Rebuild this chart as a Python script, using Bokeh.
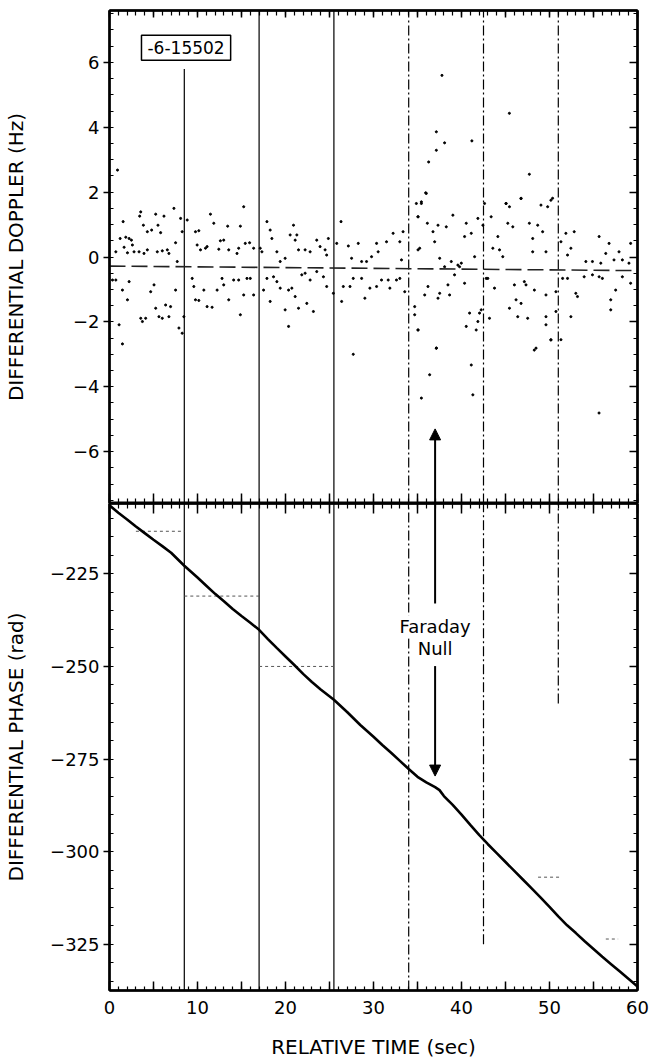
from bokeh.plotting import figure
from bokeh.layouts import column
from bokeh.models import (Range1d, LinearAxis, FixedTicker, Label, Arrow, NormalHead,
                          CustomJSTickFormatter)
from bokeh.embed import file_html
from bokeh.resources import INLINE

FONT = "DejaVu Sans"

# ---------------- data ----------------
time_range = (0, 60)
doppler_range = (-7.6, 7.6)
phase_range = (-337.5, -206.0)

time_major = [0, 5, 10, 15, 20, 25, 30, 35, 40, 45, 50, 55, 60]
time_minor = list(range(0, 61))
doppler_ticks = [-6, -4, -2, 0, 2, 4, 6]
doppler_minor = [x * 0.5 for x in range(-15, 16)]
phase_ticks = [-325, -300, -275, -250, -225]
phase_minor = list(range(-335, -205, 5))

# scatter of differential doppler (sec, Hz)
doppler_early = [
    (3.55, 1.39), (3.43, 1.26), (5.25, 1.32), (6.19, 1.26), (7.32, 1.50), (1.55, 1.09),
    (3.85, 0.98), (4.30, 0.78), (4.79, 0.83), (5.51, 0.98), (5.81, 0.75), (1.21, 0.57),
    (1.85, 0.61), (2.23, 0.57), (2.49, 0.52), (2.60, 0.37), (1.66, 0.30), (0.72, 0.16),
    (2.04, 0.13), (2.79, 0.16), (3.36, 0.16), (3.92, 0.11), (4.30, 0.22), (5.43, 0.16),
    (6.00, 0.19), (6.57, 0.22), (6.75, 0.11), (7.51, 0.44), (7.70, -0.14), (8.08, 1.19),
    (8.26, 0.78), (8.83, 1.14), (9.77, 0.78), (10.15, 0.81), (11.85, 1.04), (11.47, 1.32),
    (13.43, 0.95), (14.87, 0.95), (15.25, 1.55), (9.96, 0.37), (10.34, 0.22), (10.91, 0.27),
    (11.09, 0.32), (12.42, 0.24), (12.60, 0.50), (12.98, 0.52), (13.55, 0.22), (14.49, 0.11),
    (14.68, 0.27), (15.43, 0.42), (15.92, 0.44), (16.38, 0.27), (17.13, 0.27), (17.32, 0.16),
    (17.89, 1.09), (18.26, 0.83), (18.45, 0.57), (19.02, 0.16), (19.40, -0.14), (19.96, -0.04),
    (0.34, -0.71), (0.72, -0.71), (1.47, -1.02), (2.23, -0.76), (2.04, -1.32), (3.55, -1.89),
    (3.74, -1.99), (4.11, -1.89), (4.68, -1.07), (5.06, -0.86), (5.25, -1.58), (5.62, -1.84),
    (6.00, -1.89), (6.75, -1.84), (6.38, -1.48), (6.94, -1.53), (7.51, -1.02), (7.89, -2.19),
    (8.26, -2.35), (8.45, -1.84), (9.40, -0.66), (9.58, -0.91), (9.77, -1.32), (10.15, -1.34),
    (11.09, -1.53), (11.66, -1.55), (10.72, -1.02), (12.23, -1.02), (12.79, -0.66), (12.98, -0.86),
    (13.55, -1.32), (14.11, -0.71), (14.68, -0.71), (14.87, -1.78), (15.25, -1.17), (15.62, -0.66),
    (16.00, -0.66), (16.38, -1.17), (17.51, -1.02), (17.89, -0.66), (18.26, -1.37), (18.64, -0.61),
    (19.02, -0.76), (19.40, -0.96), (19.96, -1.63), (1.09, -2.09), (1.47, -2.68), (0.91, 2.68),
]
doppler_middle = [
    (20.91, 0.98), (21.29, 0.68), (21.10, 0.52), (20.53, 0.68), (21.48, 0.22), (22.23, 0.22),
    (22.80, 0.16), (23.55, 0.52), (23.93, 0.32), (24.50, 0.22), (24.68, 0.06), (24.87, 0.57),
    (25.82, 0.42), (26.31, 1.09), (27.14, 0.34), (28.27, 0.42), (27.51, -0.04), (28.65, -0.14),
    (29.21, -0.14), (29.78, 0.01), (30.35, 0.42), (30.53, 0.16), (31.48, 0.47), (32.23, 0.73),
    (32.99, 0.47), (33.18, -0.09), (33.36, 0.78), (35.06, 0.22), (35.25, 0.27), (35.06, 1.24),
    (34.87, 1.65), (36.00, 1.96), (35.44, 1.65), (36.12, 1.04), (37.33, 0.98), (38.27, 0.93),
    (39.02, 1.29), (36.76, 0.78), (36.95, 0.47), (37.52, -0.04), (38.84, -0.14), (39.59, -0.25),
    (20.35, -1.02), (21.10, -1.22), (20.72, -0.96), (21.48, -1.58), (22.42, -1.43), (23.17, -1.68),
    (21.85, -0.55), (22.23, -0.50), (22.80, -0.71), (23.55, -0.45), (24.31, -0.61), (24.68, -0.91),
    (25.44, -1.12), (26.38, -1.37), (26.57, -0.91), (27.33, -0.91), (27.70, -0.66), (28.65, -0.66),
    (29.02, -1.27), (29.59, -0.96), (30.35, -0.91), (30.91, -0.71), (31.67, -0.71), (31.86, -0.96),
    (32.61, -0.71), (32.99, -0.66), (33.55, -1.07), (34.68, -1.53), (34.68, -1.78), (35.06, -2.25),
    (35.82, -1.17), (36.19, -0.91), (37.14, -2.81), (37.33, -1.27), (37.52, -1.12), (38.46, -0.86),
    (38.65, -1.17), (39.21, -0.55), (38.08, -0.30), (39.78, -0.30), (20.35, -2.14),
]
doppler_late = [
    (46.77, 1.81), (50.35, 1.81), (45.07, 1.65), (45.45, 1.55), (49.03, 1.60), (49.79, 1.55),
    (42.62, 1.65), (41.86, 1.19), (43.37, 1.24), (40.54, 1.04), (42.43, 0.98), (45.26, 1.04),
    (45.83, 0.93), (47.71, 1.04), (48.66, 0.98), (49.22, 0.78), (40.35, 0.63), (41.11, 0.73),
    (44.13, 0.63), (48.09, 0.57), (51.86, 0.73), (52.81, 0.78), (55.64, 0.63), (56.77, 0.42),
    (59.22, 0.42), (51.30, 0.47), (52.43, 0.27), (49.60, 0.16), (48.09, 0.16), (43.56, 0.27),
    (44.32, 0.22), (44.69, 0.01), (41.49, 0.01), (39.98, -0.19), (52.05, 0.06), (54.13, -0.14),
    (54.88, -0.14), (55.83, -0.19), (56.39, 0.11), (57.33, -0.09), (57.90, 0.16), (58.28, -0.09),
    (59.03, -0.19), (40.35, -0.81), (42.99, -0.66), (43.75, -0.96), (46.01, -0.86), (47.14, -0.76),
    (47.33, -0.86), (48.28, -1.02), (46.20, -1.32), (46.77, -1.43), (45.45, -1.58), (46.39, -1.84),
    (47.52, -1.89), (49.60, -1.17), (50.73, -1.07), (52.05, -0.66), (52.99, -1.12), (53.18, -1.22),
    (53.94, -0.61), (54.88, -0.55), (55.64, -0.61), (56.01, -0.66), (56.96, -1.32), (57.52, -1.02),
    (58.28, -0.61), (59.22, -0.81), (51.49, -0.66), (52.43, -1.84), (50.73, -1.68), (49.60, -1.84),
    (42.24, -1.63), (42.05, -1.73), (40.92, -1.73), (41.86, -1.99), (43.18, -1.89), (40.54, -2.14),
    (41.67, -2.25), (50.16, -2.55), (51.30, -2.55), (48.47, -2.81), (49.60, -2.09), (56.96, -1.63),
    (42.81, -0.66),
]
doppler_outliers = [
    (37.78, 5.60), (45.44, 4.43), (37.14, 3.86), (38.08, 3.52), (41.18, 3.58), (36.27, 2.93),
    (37.14, 3.29), (35.93, 1.98), (35.44, 1.70), (47.71, 2.55), (46.76, 1.80), (45.06, 1.65),
    (50.16, 1.75), (27.70, -3.00), (37.14, -2.81), (36.38, -3.63), (35.44, -4.35), (41.11, -3.33),
    (41.29, -4.25), (48.27, -2.87), (50.16, -2.56), (55.63, -4.81), (35.06, -2.25), (35.06, 1.24),
]

# mean doppler level (dashed line)
mean_t = [0, 60]
mean_d = [-0.28, -0.42]

# differential phase (sec, rad)
phase_t = [0, 1, 2, 3, 4, 5, 6, 7, 8.5, 10, 11, 12, 13, 14, 15, 16, 17, 18, 19, 20,
           21, 22, 23, 24, 25.5, 27, 28.5, 30, 31, 32, 33, 34, 35, 36, 37, 37.5, 38,
           39, 40, 41, 42, 43, 44, 45, 46, 47, 48, 49, 50, 51, 52, 53, 54, 55, 56,
           57, 58, 59, 60]
phase_v = [-206.5, -208.5, -210.3, -212.2, -214.0, -215.8, -217.5, -219.3, -222.8,
           -226.0, -228.2, -230.4, -232.4, -234.5, -236.4, -238.2, -240.1, -242.6,
           -245.0, -247.3, -249.6, -252.0, -254.2, -256.2, -259.0, -262.3, -265.8,
           -269.0, -271.2, -273.3, -275.5, -277.7, -279.8, -281.3, -282.6, -283.4,
           -285.0, -287.4, -290.0, -292.8, -295.5, -298.0, -300.4, -302.8, -305.2,
           -307.6, -310.0, -312.4, -314.9, -317.5, -319.9, -322.0, -324.2, -326.3,
           -328.4, -330.4, -332.4, -334.4, -336.4]

# reference time marks (vertical lines)
mark_t = [8.5, 17.0, 25.5, 34.0, 42.5, 51.0]
mark_dash = ["solid", "solid", "solid", "10 3 2 3", "10 3 2 3", "10 3 2 3"]
mark_top_hi = [5.8, 7.6, 7.6, 7.6, 7.6, 7.6]
mark_bot_lo = [-337.5, -337.5, -337.5, -337.5, -325.0, -260.0]

# faint staircase marks in phase panel
step_t0 = [3.0, 8.5, 17.0, 48.7, 56.4]
step_t1 = [8.5, 17.0, 25.5, 51.2, 57.8]
step_v = [-213.5, -231.0, -250.0, -306.9, -323.6]

faraday_t = 37.0
arrow_up_from = -233.0
arrow_up_tip = -5.3
arrow_down_from = -249.9
arrow_down_tip = -279.6

# ---------------- helpers ----------------
def blank():
    return CustomJSTickFormatter(code="return ''")


def axis(ticks, minor, tin, tout, mtin, mtout, labels=False, label=None):
    ax = LinearAxis(ticker=FixedTicker(ticks=ticks, minor_ticks=minor),
                    major_tick_in=tin, major_tick_out=tout,
                    minor_tick_in=mtin, minor_tick_out=mtout,
                    axis_line_width=2.5, axis_line_color="black",
                    major_tick_line_width=1.5, minor_tick_line_width=1.2,
                    major_tick_line_color="black", minor_tick_line_color="black",
                    major_label_text_font=FONT, major_label_text_font_size="18px",
                    major_label_text_color="black")
    if not labels:
        ax.formatter = blank()
        ax.major_label_standoff = 0
    if label:
        ax.axis_label = label
        ax.axis_label_text_font = FONT
        ax.axis_label_text_font_size = "20px"
        ax.axis_label_text_font_style = "normal"
        ax.axis_label_text_color = "black"
    return ax


def base(height, yr, top, bottom):
    p = figure(width=653, height=height, x_range=Range1d(*time_range), y_range=Range1d(*yr),
               output_backend="svg", toolbar_location=None,
               x_axis_location=None, y_axis_location=None,
               min_border_left=107, min_border_right=16,
               min_border_top=top, min_border_bottom=bottom)
    p.grid.visible = False
    p.outline_line_color = "black"
    p.outline_line_width = 2
    p.background_fill_color = "white"
    p.border_fill_color = "white"
    return p


# ---------------- top panel: doppler ----------------
top = base(503, doppler_range, 10, 0)
left = axis(doppler_ticks, doppler_minor, 0, 6, 4, 0, labels=True,
            label="DIFFERENTIAL DOPPLER (Hz)")
left.major_label_standoff = 4
left.axis_label_standoff = 42
top.add_layout(left, "left")
top.add_layout(axis(doppler_ticks, doppler_minor, 8, 0, 4, 0), "right")
top.add_layout(axis(time_major, time_minor, 7, 0, 5, 0), "above")
top.add_layout(axis(time_major, time_minor, 10, 0, 5, 0), "below")

for t, dash, hi in zip(mark_t, mark_dash, mark_top_hi):
    top.segment(x0=[t], y0=[doppler_range[0]], x1=[t], y1=[hi],
                line_color="black", line_width=1.2, line_dash=dash)

for pts in (doppler_early, doppler_middle, doppler_late, doppler_outliers):
    xs = [a for a, b in pts]
    ys = [b for a, b in pts]
    top.scatter(xs, ys, size=2.1, color="black", marker="circle")

top.line(mean_t, mean_d, line_color="#222222", line_width=1.6, line_dash="16 6")

top.add_layout(Label(x=8.7, y=6.45, text="-6-15502", text_align="center",
                     text_baseline="middle", text_font=FONT, text_font_size="17px",
                     text_color="black", border_line_color="black", border_line_width=1.5,
                     background_fill_color="white", padding=6))

top.add_layout(Arrow(end=NormalHead(size=11, fill_color="black", line_color="black"),
                     x_start=faraday_t, y_start=doppler_range[0],
                     x_end=faraday_t, y_end=arrow_up_tip,
                     line_color="black", line_width=2))

# ---------------- bottom panel: phase ----------------
bot = base(558, phase_range, 0, 71)
left2 = axis(phase_ticks, phase_minor, 0, 6, 4, 0, labels=True,
             label="DIFFERENTIAL PHASE (rad)")
left2.major_label_standoff = 4
left2.axis_label_standoff = 19
bot.add_layout(left2, "left")
bot.add_layout(axis(phase_ticks, phase_minor, 8, 0, 4, 0), "right")
bot.add_layout(axis(time_major, time_minor, 10, 0, 5, 0), "above")
xax = axis(time_major, time_minor, 9, 0, 4, 0, labels=True, label="RELATIVE TIME (sec)")
xax.formatter = CustomJSTickFormatter(code="return (tick % 10 === 0) ? tick.toFixed(0) : ''")
xax.major_label_standoff = 10
xax.axis_label_standoff = 18
bot.add_layout(xax, "below")

for t, dash, lo in zip(mark_t, mark_dash, mark_bot_lo):
    bot.segment(x0=[t], y0=[lo], x1=[t], y1=[phase_range[1]],
                line_color="black", line_width=1.2, line_dash=dash)

bot.segment(x0=step_t0, y0=step_v, x1=step_t1, y1=step_v,
            line_color="#555555", line_width=1, line_dash="3 3")

bot.line(phase_t, phase_v, line_color="black", line_width=2.6)

bot.segment(x0=[faraday_t], y0=[arrow_up_from], x1=[faraday_t], y1=[phase_range[1]],
            line_color="black", line_width=2)
bot.add_layout(Arrow(end=NormalHead(size=11, fill_color="black", line_color="black"),
                     x_start=faraday_t, y_start=arrow_down_from,
                     x_end=faraday_t, y_end=arrow_down_tip,
                     line_color="black", line_width=2))
for txt, yy in (("Faraday", -239.3), ("Null", -245.2)):
    bot.add_layout(Label(x=faraday_t, y=yy, text=txt, text_align="center",
                         text_baseline="middle", text_font=FONT, text_font_size="18px",
                         text_color="black", background_fill_color="white", padding=1))

layout = column(top, bot, spacing=0)
open("out.html", "w").write(file_html(layout, INLINE))
